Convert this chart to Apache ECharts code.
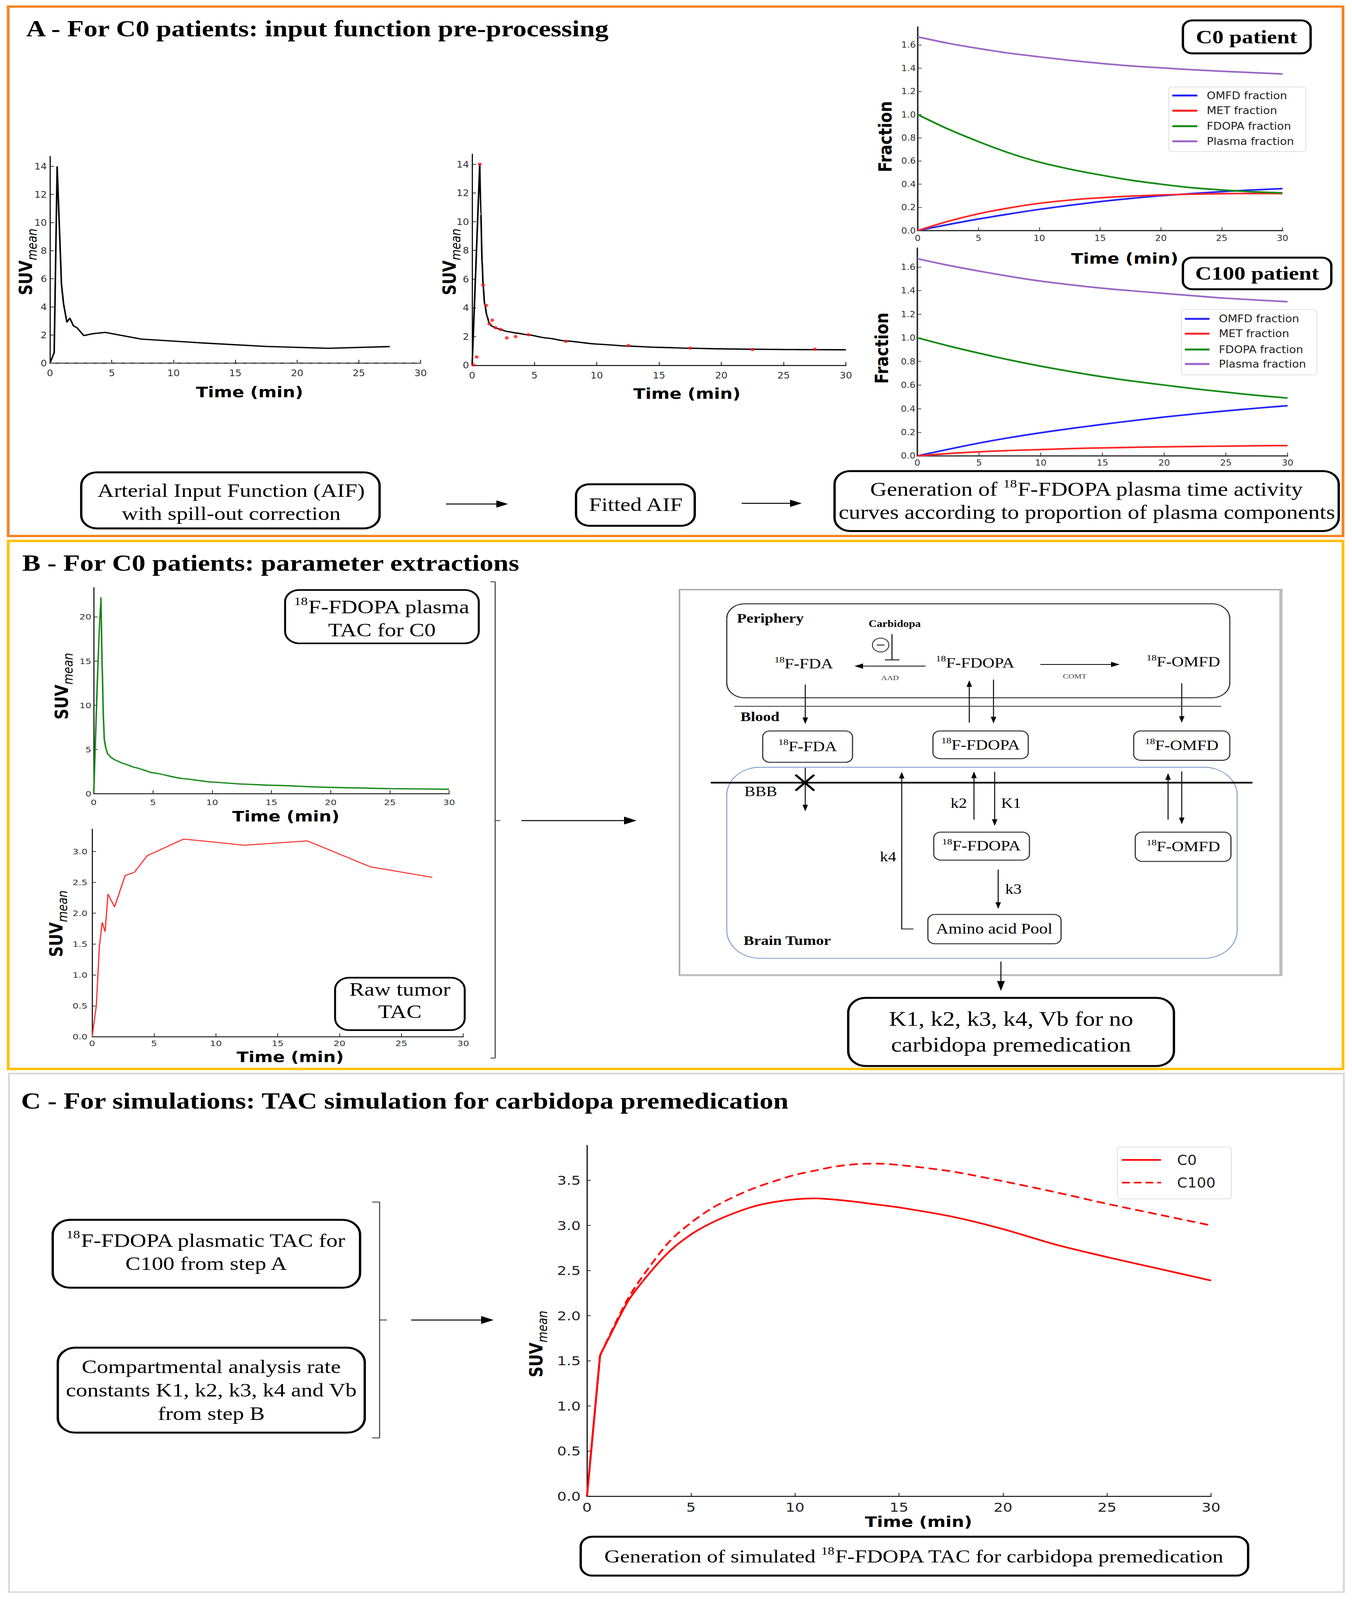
<!DOCTYPE html>
<html><head><meta charset="utf-8">
<script src="https://cdn.jsdelivr.net/npm/echarts@6/dist/echarts.min.js"></script>
<style>html,body{margin:0;padding:0;background:#fff;overflow:hidden}#c{width:3462px;height:4857px;transform-origin:0 0}</style>
</head><body><div id="c"></div>
<script>
// ---------------- DATA ----------------
const timeTicks = [0, 5, 10, 15, 20, 25, 30];
const suvTicksA = [0, 2, 4, 6, 8, 10, 12, 14];
const fracTicks = [0, 0.2, 0.4, 0.6, 0.8, 1.0, 1.2, 1.4, 1.6];
const plasmaTicks = [0, 5, 10, 15, 20];
const tumorTicks = [0, 0.5, 1.0, 1.5, 2.0, 2.5, 3.0];
const simTicks = [0, 0.5, 1.0, 1.5, 2.0, 2.5, 3.0, 3.5];

// Panel A - raw AIF with spill-out correction
const aifRawTime = [0, 0.34, 0.58, 0.93, 1.1, 1.37, 1.6, 1.9, 2.2, 2.74, 3.4, 4.46, 7.4, 12.5, 17.5, 22.5, 27.5];
const aifRawSUV  = [0, 0.74, 14.0, 5.6, 4.2, 2.9, 3.2, 2.65, 2.5, 1.95, 2.08, 2.18, 1.7, 1.42, 1.18, 1.05, 1.17];

// Panel A - fitted AIF
const aifSampleTime = [0.1, 0.36, 0.61, 0.88, 1.13, 1.38, 1.61, 1.88, 2.28, 2.78, 3.49, 4.52, 7.53, 12.54, 17.5, 22.5, 27.5];
const aifSampleSUV  = [0.03, 0.58, 14.0, 5.59, 4.17, 2.89, 3.14, 2.62, 2.5, 1.91, 2.0, 2.13, 1.67, 1.38, 1.2, 1.1, 1.12];
const aifFitTime = [0, 0.61, 0.7, 0.8, 0.88, 1.0, 1.2, 1.38, 1.6, 1.9, 2.3, 2.8, 3.5, 4.5, 6, 7.5, 10, 12.5, 15, 17.5, 20, 22.5, 25, 27.5, 30];
const aifFitSUV  = [0, 14.0, 10.5, 7.2, 5.6, 4.3, 3.4, 2.92, 2.72, 2.6, 2.48, 2.36, 2.25, 2.12, 1.9, 1.70, 1.48, 1.34, 1.25, 1.19, 1.15, 1.12, 1.1, 1.09, 1.08];

// Panel A - plasma fractions
const fracTime   = [0, 2.5, 5, 7.5, 10, 12.5, 15, 17.5, 20, 22.5, 25, 27.5, 30];
const c0Omfd     = [0, 0.052, 0.10, 0.143, 0.183, 0.218, 0.25, 0.277, 0.30, 0.319, 0.336, 0.35, 0.362];
const c0Met      = [0, 0.08, 0.145, 0.195, 0.235, 0.263, 0.283, 0.297, 0.307, 0.314, 0.318, 0.32, 0.32];
const c0Fdopa    = [1.0, 0.875, 0.767, 0.67, 0.59, 0.53, 0.48, 0.435, 0.40, 0.37, 0.35, 0.335, 0.325];
const c0Plasma   = [1.67, 1.615, 1.57, 1.53, 1.498, 1.468, 1.442, 1.42, 1.403, 1.387, 1.374, 1.362, 1.35];
const c100Omfd   = [0, 0.056, 0.109, 0.155, 0.196, 0.233, 0.267, 0.299, 0.329, 0.356, 0.381, 0.404, 0.425];
const c100Met    = [0, 0.02, 0.035, 0.046, 0.054, 0.062, 0.068, 0.073, 0.077, 0.08, 0.083, 0.086, 0.088];
const c100Fdopa  = [1.0, 0.932, 0.87, 0.812, 0.76, 0.713, 0.67, 0.633, 0.60, 0.568, 0.54, 0.513, 0.49];
const c100Plasma = [1.67, 1.614, 1.565, 1.52, 1.48, 1.448, 1.42, 1.397, 1.376, 1.355, 1.335, 1.32, 1.306];
const fracNames = ['OMFD fraction', 'MET fraction', 'FDOPA fraction', 'Plasma fraction'];

// Panel B - plasma TAC for C0 and raw tumor TAC
const plasmaTime = [0, 0.6, 0.72, 0.82, 0.9, 1.05, 1.2, 1.5, 1.8, 2.5, 3.5, 5, 7.5, 10, 12.5, 15, 20, 25, 30];
const plasmaSUV  = [0, 22.2, 14, 8.4, 6.0, 5.0, 4.45, 4.05, 3.8, 3.4, 2.95, 2.35, 1.7, 1.3, 1.08, 0.94, 0.7, 0.56, 0.49];
const tumorTime = [0, 0.34, 0.58, 0.81, 1.05, 1.28, 1.81, 2.67, 3.4, 4.45, 7.4, 12.3, 17.4, 22.5, 27.5];
const tumorSUV  = [0, 0.51, 1.45, 1.85, 1.70, 2.31, 2.10, 2.61, 2.66, 2.93, 3.2, 3.10, 3.17, 2.75, 2.58];

// Panel C - simulated TACs
const simTime = [0, 0.63, 1, 2, 3, 4, 5, 6, 7, 8, 9, 10, 11, 12, 13, 14, 15, 17.5, 20, 22.5, 25, 27.5, 30];
const simC0   = [0, 1.56, 1.73, 2.17, 2.47, 2.72, 2.90, 3.03, 3.13, 3.21, 3.26, 3.29, 3.30, 3.285, 3.26, 3.23, 3.20, 3.10, 2.96, 2.79, 2.65, 2.52, 2.39];
const simC100 = [0, 1.56, 1.74, 2.20, 2.54, 2.83, 3.03, 3.19, 3.31, 3.41, 3.49, 3.56, 3.61, 3.655, 3.68, 3.685, 3.67, 3.60, 3.49, 3.37, 3.24, 3.12, 3.0];

// ---------------- HELPERS ----------------
const SERIF = "'Liberation Serif', 'Times New Roman', serif";
const SANS = "'DejaVu Sans', sans-serif";
const COND = "'DejaVu Sans Condensed', 'Liberation Sans Narrow', 'DejaVu Sans', sans-serif";
const zip = (a, b) => a.map((v, i) => [v, b[i]]);
const near = (v, arr) => arr.some(t => Math.abs(t - v) < 1e-6);

function xAx(gi, o) {
  return {
    type: 'value', gridIndex: gi, min: 0, max: 30, interval: 5,
    axisLine: { show: true, onZero: false, lineStyle: { color: o.color, width: o.lw } },
    axisTick: { show: true, inside: true, length: 10, lineStyle: { color: o.color, width: 2 }, customValues: timeTicks },
    axisLabel: { fontFamily: o.ff, fontSize: o.fs, color: o.lc, margin: o.m, customValues: timeTicks,
      formatter: v => near(v, timeTicks) ? String(v) : '' },
    splitLine: { show: false }
  };
}
function yAx(gi, max, ticks, dec, o) {
  return {
    type: 'value', gridIndex: gi, min: 0, max: max, interval: ticks[1] - ticks[0],
    axisLine: { show: true, onZero: false, lineStyle: { color: o.color, width: o.lw } },
    axisTick: { show: true, inside: true, length: 10, lineStyle: { color: o.color, width: 2 }, customValues: ticks },
    axisLabel: { fontFamily: o.ff, fontSize: o.fs, color: o.lc, margin: o.m, customValues: ticks,
      formatter: v => near(v, ticks) ? v.toFixed(dec) : '' },
    splitLine: { show: false }
  };
}
function ln(name, gi, xs, ys, color, w, extra) {
  return Object.assign({
    name, type: 'line', xAxisIndex: gi, yAxisIndex: gi, data: zip(xs, ys), symbol: 'none',
    lineStyle: { color, width: w }, itemStyle: { color }, z: 3
  }, extra || {});
}

function R(x, y, w, h, r, stroke, lw, fill) {
  return { type: 'rect', shape: { x, y, width: w, height: h, r }, style: { fill: fill === undefined ? '#fff' : fill, stroke, lineWidth: lw }, z: 50 };
}
function L(x1, y1, x2, y2, stroke, lw, dash) {
  const s = { stroke, lineWidth: lw };
  if (dash) s.lineDash = dash;
  return { type: 'line', shape: { x1, y1, x2, y2 }, style: s, z: 51 };
}
function ARR(x1, y1, x2, y2, lw, hl, hw, color) {
  const c = color || '#000';
  const dx = x2 - x1, dy = y2 - y1, len = Math.hypot(dx, dy), ux = dx / len, uy = dy / len;
  const bx = x2 - ux * hl, by = y2 - uy * hl, px = -uy, py = ux;
  return [L(x1, y1, bx + ux * 2, by + uy * 2, c, lw),
    { type: 'polygon', shape: { points: [[x2, y2], [bx + px * hw / 2, by + py * hw / 2], [bx - px * hw / 2, by - py * hw / 2]] }, style: { fill: c }, z: 51 }];
}
function T(x, y, text, fs, o) {
  o = o || {};
  const st = { text, fontSize: fs, fontFamily: o.ff || SERIF, fontWeight: o.fw || 'normal', fontStyle: o.fst || 'normal',
    fill: o.color || '#000', align: o.align || 'center', verticalAlign: 'middle', lineHeight: o.lh || Math.round(fs * 1.2) };
  if (o.rich) st.rich = o.rich;
  return { type: 'text', x, y, rotation: o.rot || 0, style: st, z: 52 };
}
function sup(fs) {
  return { s: { fontSize: Math.round(fs * 0.6), lineHeight: Math.round(fs * 0.5), verticalAlign: 'top', fontFamily: SERIF, fill: '#000' } };
}
function suvLabel(x, y) {
  return T(x, y, '{a|SUV}{b|mean}', 46, { rot: Math.PI / 2, ff: SANS, rich: {
    a: { fontSize: 46, fontWeight: 'bold', fontFamily: SANS, lineHeight: 56, verticalAlign: 'top', fill: '#000' },
    b: { fontSize: 34, fontStyle: 'italic', fontFamily: SANS, lineHeight: 28, verticalAlign: 'bottom', fill: '#000' } } });
}
function timeLabel(x, y) { return T(x, y, 'Time (min)', 45, { ff: SANS, fw: 'bold' }); }
function legend(x, y, w, h, rows, lx1, lx2, tx, fs, items) {
  const out = [R(x, y, w, h, 8, '#dddddd', 2, '#fff')];
  items.forEach((it, i) => {
    out.push(L(lx1, rows[i], lx2, rows[i], it.color, it.lw || 6, it.dash));
    out.push(T(tx, rows[i], it.name, fs, { ff: COND, align: 'left', color: '#222' }));
  });
  return out;
}

// fit the 3462x4857 figure into the real viewport height if the window is shorter
const box = document.getElementById('c');
const fitK = Math.min(1, (window.innerHeight || 4857) / 4857);
if (fitK < 0.999) box.style.transform = 'scale(1,' + fitK + ')';

// ---------------- CHART ----------------
const chart = echarts.init(box, null, { renderer: 'svg', width: 3462, height: 4857 });

const grids = [
  { left: 128, top: 475, width: 949, height: 627 },
  { left: 1209, top: 468, width: 957, height: 641 },
  { left: 2350, top: 82, width: 934, height: 618 },
  { left: 2349, top: 753, width: 948, height: 631 },
  { left: 240, top: 1784, width: 910, height: 625 },
  { left: 236, top: 2517, width: 950, height: 630 },
  { left: 1503, top: 3477, width: 1598, height: 1065 }
];
const sA = { color: '#111', lw: 3, ff: COND, fs: 28, lc: '#333', m: 16 };
const sF = { color: '#333', lw: 4, ff: COND, fs: 26, lc: '#333', m: 10 };
const sB = { color: '#222', lw: 3, ff: SANS, fs: 24, lc: '#333', m: 14 };
const sC = { color: '#111', lw: 3, ff: SANS, fs: 38, lc: '#222', m: 14 };

const xAxes = [
  xAx(0, sA), xAx(1, sA), xAx(2, sF), xAx(3, Object.assign({}, sF, { m: 8 })),
  xAx(4, sB), xAx(5, Object.assign({}, sB, { m: 8 })), xAx(6, sC)
];
const yAxes = [
  yAx(0, 14.7, suvTicksA, 0, Object.assign({}, sA, { m: 8 })),
  yAx(1, 14.7, suvTicksA, 0, Object.assign({}, sA, { m: 8 })),
  yAx(2, 1.755, fracTicks, 1, Object.assign({}, sF, { m: 5 })),
  yAx(3, 1.76, fracTicks, 1, Object.assign({}, sF, { m: 5 })),
  yAx(4, 23.3, plasmaTicks, 0, Object.assign({}, sB, { m: 6 })),
  yAx(5, 3.36, tumorTicks, 1, Object.assign({}, sB, { m: 12 })),
  yAx(6, 3.887, simTicks, 1, Object.assign({}, sC, { m: 16 }))
];

const BLUE = '#2424ff', RED = '#ff2626', GREEN = '#138a13', PURPLE = '#9b67c6';
const smoothF = { smooth: 0.3 };
const simSmooth = { smooth: 0.3 };
const series = [
  ln('AIF raw', 0, aifRawTime, aifRawSUV, '#000', 4),
  ln('baseline', 0, [0, 30], [0, 0], '#777', 3, { lineStyle: { color: '#777', width: 3, type: [14, 10] } }),
  ln('Fitted AIF', 1, aifFitTime.slice(0, 2), aifFitSUV.slice(0, 2), '#000', 4),
  ln('Fitted AIF', 1, aifFitTime.slice(1), aifFitSUV.slice(1), '#000', 4, { smooth: 0.2, smoothMonotone: 'x' }),
  { name: 'AIF samples', type: 'scatter', xAxisIndex: 1, yAxisIndex: 1, data: zip(aifSampleTime, aifSampleSUV), symbolSize: 10, itemStyle: { color: '#ff1a1a' }, z: 4 },
  ln(fracNames[0], 2, fracTime, c0Omfd, BLUE, 5, smoothF),
  ln(fracNames[1], 2, fracTime, c0Met, RED, 5, smoothF),
  ln(fracNames[2], 2, fracTime, c0Fdopa, GREEN, 5, smoothF),
  ln(fracNames[3], 2, fracTime, c0Plasma, PURPLE, 5, smoothF),
  ln(fracNames[0], 3, fracTime, c100Omfd, BLUE, 5, smoothF),
  ln(fracNames[1], 3, fracTime, c100Met, RED, 5, smoothF),
  ln(fracNames[2], 3, fracTime, c100Fdopa, GREEN, 5, smoothF),
  ln(fracNames[3], 3, fracTime, c100Plasma, PURPLE, 5, smoothF),
  ln('Plasma TAC C0', 4, plasmaTime, plasmaSUV, '#1a8a1a', 4, { smooth: 0.15, smoothMonotone: 'x' }),
  ln('Raw tumor TAC', 5, tumorTime, tumorSUV, '#ff2a2a', 3),
  ln('C0', 6, simTime.slice(0, 2), simC0.slice(0, 2), '#ff0000', 5),
  ln('C0', 6, simTime.slice(1), simC0.slice(1), '#ff0000', 5, simSmooth),
  ln('C100', 6, simTime.slice(0, 2), simC100.slice(0, 2), '#ff0000', 5, { lineStyle: { color: '#ff0000', width: 5, type: [22, 12] } }),
  ln('C100', 6, simTime.slice(1), simC100.slice(1), '#ff0000', 5, Object.assign({ lineStyle: { color: '#ff0000', width: 5, type: [22, 12] } }, simSmooth))
];

// ---------------- GRAPHICS ----------------
let g = [];
const push = (...a) => a.forEach(e => Array.isArray(e) ? g.push(...e) : g.push(e));
const BOX = 6, F58 = 58;

push(R(21, 20, 3418, 1607, 0, '#f58220', 7, 'none'));
push(R(21, 1642, 3418, 1603, 0, '#ffc000', 7, 'none'));
push(R(23, 3259, 3418, 1574, 0, '#d9d9d9', 5, 'none'));

push(T(67, 87, 'A - For C0 patients: input function pre-processing', 70, { fw: 'bold', align: 'left' }));
push(T(57, 1709, 'B - For C0 patients: parameter extractions', 70, { fw: 'bold', align: 'left' }));
push(T(54, 3342, 'C - For simulations: TAC simulation for carbidopa premedication', 70, { fw: 'bold', align: 'left' }));

// ---- Panel A
push(suvLabel(71, 795), suvLabel(1156, 795));
push(timeLabel(639, 1190), timeLabel(1759, 1195), timeLabel(2880, 785));
push(T(2267, 415, 'Fraction', 47, { ff: SANS, fw: 'bold', rot: Math.PI / 2 }));
push(T(2258, 1057, 'Fraction', 47, { ff: SANS, fw: 'bold', rot: Math.PI / 2 }));
push(R(3029, 62, 327, 100, 24, '#000', BOX), T(3192, 112, 'C0 patient', 58, { fw: 'bold' }));
push(R(3029, 782, 380, 96, 24, '#000', BOX), T(3219, 830, 'C100 patient', 58, { fw: 'bold' }));
const fracItems = [{ name: fracNames[0], color: BLUE }, { name: fracNames[1], color: RED }, { name: fracNames[2], color: GREEN }, { name: fracNames[3], color: PURPLE }];
push(legend(2993, 264, 351, 196, [290, 336, 383, 429], 3002, 3066, 3090, 32, fracItems));
push(legend(3025, 940, 347, 198, [968, 1013, 1061, 1105], 3034, 3097, 3121, 32, fracItems));

push(R(208, 1434, 764, 170, 40, '#000', BOX), T(592, 1524, 'Arterial Input Function (AIF)\nwith spill-out correction', F58, { lh: 70 }));
push(ARR(1142, 1530, 1301, 1530, 3, 30, 22));
push(R(1475, 1470, 304, 126, 34, '#000', BOX), T(1628, 1532, 'Fitted AIF', F58));
push(ARR(1899, 1528, 2053, 1528, 3, 30, 22));
push(R(2137, 1430, 1291, 182, 40, '#000', BOX),
  T(2783, 1520, 'Generation of {s|18}F-FDOPA plasma time activity\ncurves according to proportion of plasma components', 59, { lh: 70, rich: sup(59) }));

// ---- Panel B
push(suvLabel(163, 2083), suvLabel(149, 2804));
push(timeLabel(732, 2478), timeLabel(743, 3208));
push(R(730, 1791, 496, 162, 36, '#000', 5), T(978, 1877, '{s|18}F-FDOPA plasma\nTAC for C0', F58, { lh: 70, rich: sup(F58) }));
push(R(858, 2968, 332, 159, 36, '#000', 5), T(1024, 3037, 'Raw tumor\nTAC', F58, { lh: 68 }));
push(L(1268, 1766, 1268, 3212, '#333', 2.5), L(1256, 1766, 1268, 1766, '#333', 2.5), L(1256, 3212, 1268, 3212, '#333', 2.5), L(1268, 2491, 1281, 2491, '#333', 2.5));
push(ARR(1335, 2491, 1630, 2491, 3, 32, 24));

push(R(1740, 1790, 1542, 1170, 0, '#a8a8a8', 4, 'none'));
push(L(3280, 1792, 3280, 2962, '#bdbdbd', 8), L(1742, 2960, 3282, 2960, '#bdbdbd', 6));
push(R(1861, 1833, 1288, 285, 45, '#333', 3, 'none'));
push(T(1887, 1877, 'Periphery', 40, { fw: 'bold', align: 'left' }));
push(T(2291, 1894, 'Carbidopa', 29, { fw: 'bold' }));
push({ type: 'circle', shape: { cx: 2255, cy: 1958, r: 21 }, style: { fill: 'none', stroke: '#333', lineWidth: 2.5 }, z: 51 });
push(L(2245, 1958, 2265, 1958, '#333', 3));
push(L(2284, 1925, 2284, 2003, '#222', 3), L(2266, 2003, 2303, 2003, '#222', 3));
push(ARR(2370, 2022, 2188, 2022, 2.5, 22, 16));
push(T(2279, 2057, 'AAD', 21, { color: '#444' }));
push(T(2058, 2015, '{s|18}F-FDA', 43, { rich: sup(43) }));
push(T(2497, 2012, '{s|18}F-FDOPA', 43, { rich: sup(43) }));
push(ARR(2664, 2017, 2867, 2017, 2.5, 22, 16));
push(T(2752, 2053, 'COMT', 21, { color: '#444' }));
push(T(3030, 2009, '{s|18}F-OMFD', 43, { rich: sup(43) }));
push(ARR(2062, 2078, 2062, 2198, 2.5, 20, 14), ARR(2482, 2194, 2482, 2065, 2.5, 20, 14),
  ARR(2544, 2063, 2544, 2196, 2.5, 20, 14), ARR(3026, 2074, 3026, 2194, 2.5, 20, 14));
push(L(1880, 2144, 3127, 2144, '#444', 2.5));
push(T(1896, 2176, 'Blood', 40, { fw: 'bold', align: 'left' }));
push(R(1953, 2219, 230, 95, 18, '#333', 3), T(2068, 2266, '{s|18}F-FDA', 43, { rich: sup(43) }));
push(R(2389, 2219, 244, 84, 18, '#333', 3), T(2511, 2261, '{s|18}F-FDOPA', 43, { rich: sup(43) }));
push(R(2903, 2219, 246, 89, 18, '#333', 3), T(3026, 2263, '{s|18}F-OMFD', 43, { rich: sup(43) }));
push(R(1861, 2329, 1307, 580, 85, '#7f9cc8', 2.5, 'none'));
push(L(1820, 2376, 3207, 2376, '#000', 5));
push(T(1906, 2402, 'BBB', 42, { align: 'left' }));
push(L(2037, 2352, 2085, 2400, '#000', 6), L(2085, 2352, 2037, 2400, '#000', 6));
push(ARR(2062, 2331, 2062, 2463, 2.5, 20, 14));
push(L(2339, 2820, 2309, 2820, '#222', 2.5), ARR(2309, 2821, 2309, 2343, 2.5, 20, 14));
push(T(2274, 2600, 'k4', 42));
push(ARR(2494, 2488, 2494, 2342, 2.5, 20, 14), ARR(2547, 2343, 2547, 2507, 2.5, 20, 14));
push(T(2455, 2438, 'k2', 42), T(2589, 2438, 'K1', 42));
push(R(2391, 2526, 245, 85, 18, '#333', 3), T(2513, 2568, '{s|18}F-FDOPA', 43, { rich: sup(43) }));
push(ARR(2556, 2640, 2556, 2759, 2.5, 20, 14), T(2595, 2698, 'k3', 42));
push(R(2376, 2776, 341, 89, 18, '#333', 3), T(2546, 2820, 'Amino acid Pool', 44));
push(T(1904, 2855, 'Brain Tumor', 40, { fw: 'bold', align: 'left' }));
push(ARR(2991, 2488, 2991, 2347, 2.5, 20, 14), ARR(3026, 2342, 3026, 2502, 2.5, 20, 14));
push(R(2907, 2526, 245, 89, 18, '#333', 3), T(3030, 2570, '{s|18}F-OMFD', 43, { rich: sup(43) }));
push(ARR(2563, 2919, 2563, 3008, 2.5, 30, 20));
push(R(2172, 3029, 834, 207, 45, '#000', BOX), T(2589, 3132, 'K1, k2, k3, k4, Vb for no\ncarbidopa premedication', 62, { lh: 79 }));

// ---- Panel C
push(R(135, 3703, 787, 206, 45, '#000', BOX), T(528, 3800, '{s|18}F-FDOPA plasmatic TAC for\nC100 from step A', F58, { lh: 70, rich: sup(F58) }));
push(R(148, 4091, 786, 258, 45, '#000', BOX), T(541, 4220, 'Compartmental analysis rate\nconstants K1, k2, k3, k4 and Vb\nfrom step B', F58, { lh: 71 }));
push(L(972, 3649, 972, 4365, '#333', 2.5), L(953, 3649, 972, 3649, '#333', 2.5), L(953, 4365, 972, 4365, '#333', 2.5), L(972, 4007, 991, 4007, '#333', 2.5));
push(ARR(1053, 4007, 1264, 4007, 3, 32, 24));
push(suvLabel(1378, 4080), timeLabel(2352, 4620));
push(legend(2861, 3482, 292, 157, [3521, 3590], 2873, 2973, 3014, 42,
  [{ name: 'C0', color: '#ff0000', lw: 5 }, { name: 'C100', color: '#ff0000', lw: 5, dash: [20, 10] }]));
push(R(1487, 4665, 1709, 118, 30, '#000', BOX),
  T(2341, 4724, 'Generation of simulated {s|18}F-FDOPA TAC for carbidopa premedication', 56, { rich: sup(56) }));

chart.setOption({
  backgroundColor: '#ffffff',
  animation: false,
  grid: grids,
  xAxis: xAxes,
  yAxis: yAxes,
  series: series,
  graphic: { elements: g }
});
</script></body></html>
